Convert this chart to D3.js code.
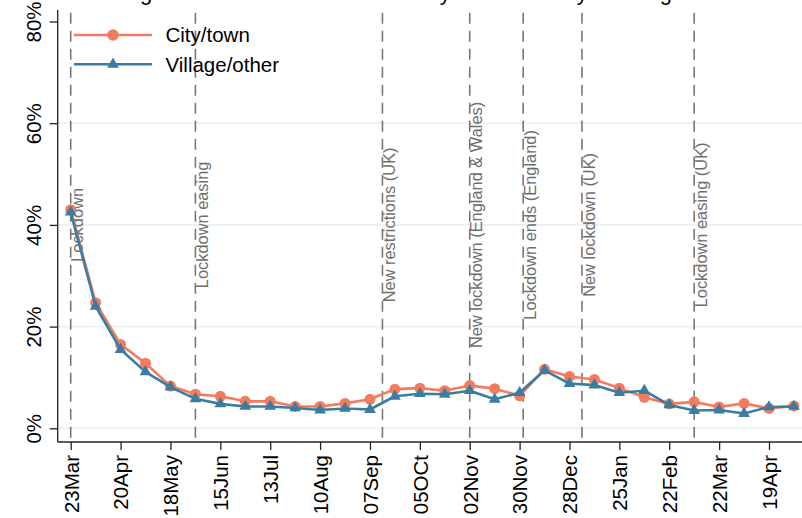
<!DOCTYPE html>
<html>
<head>
<meta charset="utf-8">
<script src="https://cdn.jsdelivr.net/npm/d3@7"></script>
<style>
  html, body { margin: 0; padding: 0; background: #fff; }
  svg { display: block; font-family: "Liberation Sans", Arial, sans-serif; }
</style>
</head>
<body>
<svg id="chart" width="802" height="518"></svg>
<script>
// ---- data ----
const titleText = "Percentage who never left home at all by settlement by adult age";
const dates = ["2020-03-23","2020-04-06","2020-04-20","2020-05-04","2020-05-18","2020-06-01","2020-06-15","2020-06-29","2020-07-13","2020-07-27","2020-08-10","2020-08-24","2020-09-07","2020-09-21","2020-10-05","2020-10-19","2020-11-02","2020-11-16","2020-11-30","2020-12-14","2020-12-28","2021-01-11","2021-01-25","2021-02-08","2021-02-22","2021-03-08","2021-03-22","2021-04-05","2021-04-19","2021-05-03"];
const cityTown = [43.0,24.7,16.5,12.8,8.3,6.7,6.3,5.3,5.3,4.3,4.3,4.9,5.7,7.7,7.9,7.4,8.4,7.8,6.4,11.6,10.2,9.6,7.9,6.1,4.8,5.2,4.2,4.9,3.9,4.4];
const villageOther = [42.5,24.0,15.5,11.1,8.1,5.8,4.8,4.3,4.3,4.0,3.6,3.9,3.7,6.3,6.8,6.7,7.4,5.7,7.0,11.4,8.8,8.5,7.0,7.4,4.6,3.5,3.6,2.9,4.2,4.3];
const seriesNames = ["City/town", "Village/other"];
const tickDates = ["2020-03-23","2020-04-20","2020-05-18","2020-06-15","2020-07-13","2020-08-10","2020-09-07","2020-10-05","2020-11-02","2020-11-30","2020-12-28","2021-01-25","2021-02-22","2021-03-22","2021-04-19"];
const tickLabels = ["23Mar","20Apr","18May","15Jun","13Jul","10Aug","07Sep","05OCt","02Nov","30Nov","28Dec","25Jan","22Feb","22Mar","19Apr"];
const yTicks = [0, 20, 40, 60, 80];
const eventDates = ["2020-03-23","2020-06-01","2020-09-14","2020-11-02","2020-12-02","2021-01-04","2021-03-08"];
const eventLabels = ["Lockdown","Lockdown easing","New restrictions (UK)","New lockdown (England & Wales)","Lockdown ends (England)","New lockdown (UK)","Lockdown easing (UK)"];

// ---- layout / style ----
const cityColor = "#F47B5E";
const villageColor = "#3A7DA0";
const parse = d3.utcParse("%Y-%m-%d");
const svg = d3.select("#chart");

const axisX = 57.7, axisY = 442, plotTop = 10, plotRight = 802;
const x = d3.scaleUtc()
  .domain([parse("2020-03-23"), parse("2021-04-19")])
  .range([70.7, 769]);
const y = d3.scaleLinear().domain([0, 80]).range([428.3, 21.5]);

// title (cut off by the top edge, as in the source image)
svg.append("text")
  .attr("x", 52).attr("y", 0)
  .attr("font-size", 22)
  .attr("fill", "#000")
  .text(titleText);

// gridlines
svg.append("g").selectAll("line")
  .data(yTicks.filter(d => d < 80))
  .join("line")
  .attr("x1", axisX).attr("x2", plotRight)
  .attr("y1", d => y(d)).attr("y2", d => y(d))
  .attr("stroke", "#e8f1f3").attr("stroke-width", 1.6);

// event lines
const ev = svg.append("g");
ev.selectAll("line")
  .data(eventDates)
  .join("line")
  .attr("x1", d => x(parse(d))).attr("x2", d => x(parse(d)))
  .attr("y1", 12.7).attr("y2", axisY)
  .attr("stroke", "#777").attr("stroke-width", 1.6)
  .attr("stroke-dasharray", "11,7");

ev.selectAll("text")
  .data(eventDates)
  .join("text")
  .attr("transform", d => `translate(${x(parse(d)) + 12.6},${y(40)}) rotate(-90)`)
  .attr("text-anchor", "middle")
  .attr("font-size", 16.4)
  .attr("fill", "#6e6e6e")
  .text((d, i) => eventLabels[i]);

// series
const series = [
  { name: seriesNames[0], values: cityTown, color: cityColor, shape: "circle" },
  { name: seriesNames[1], values: villageOther, color: villageColor, shape: "triangle" }
];
const line = d3.line().x(d => x(d.date)).y(d => y(d.v));
const triSym = d3.symbol().type(d3.symbolTriangle).size(60);

series.forEach(s => {
  const pts = dates.map((d, i) => ({ date: parse(d), v: s.values[i] }));
  const g = svg.append("g");
  g.append("path")
    .datum(pts)
    .attr("d", line)
    .attr("fill", "none")
    .attr("stroke", s.color)
    .attr("stroke-width", 2.6)
    .attr("stroke-linejoin", "round");
  if (s.shape === "circle") {
    g.selectAll("circle").data(pts).join("circle")
      .attr("cx", d => x(d.date)).attr("cy", d => y(d.v))
      .attr("r", 5.5).attr("fill", s.color);
  } else {
    g.selectAll("path.m").data(pts).join("path")
      .attr("class", "m")
      .attr("d", triSym)
      .attr("transform", d => `translate(${x(d.date)},${y(d.v)})`)
      .attr("fill", s.color);
  }
});

// legend
const lg = svg.append("g");
series.forEach((s, i) => {
  const ly = 35 + i * 29.3;
  lg.append("line").attr("x1", 74).attr("x2", 152).attr("y1", ly).attr("y2", ly)
    .attr("stroke", s.color).attr("stroke-width", 2.6);
  if (s.shape === "circle") {
    lg.append("circle").attr("cx", 113).attr("cy", ly).attr("r", 5.8).attr("fill", s.color);
  } else {
    lg.append("path").attr("d", triSym).attr("transform", `translate(113,${ly})`).attr("fill", s.color);
  }
  lg.append("text").attr("x", 165.5).attr("y", ly).attr("dy", "0.36em")
    .attr("font-size", 20.5).attr("fill", "#000").text(s.name);
});

// y axis
const yAxis = svg.append("g").attr("transform", `translate(${axisX},0)`)
  .call(d3.axisLeft(y).tickValues(yTicks).tickSize(8).tickFormat(d => d + "%"));
yAxis.select(".domain").remove();
yAxis.append("line").attr("x1", 0).attr("x2", 0).attr("y1", plotTop).attr("y2", axisY)
  .attr("stroke", "#222").attr("stroke-width", 1.3);
yAxis.selectAll(".tick line").attr("stroke", "#222").attr("stroke-width", 1.3);
yAxis.selectAll(".tick text")
  .attr("font-size", 20.5).attr("fill", "#000")
  .attr("font-family", "'Liberation Sans', Arial, sans-serif")
  .attr("text-anchor", "middle")
  .attr("x", 0).attr("dy", 0)
  .attr("transform", "translate(-16.3,0) rotate(-90)");

// x axis
const xAxis = svg.append("g").attr("transform", `translate(0,${axisY})`)
  .call(d3.axisBottom(x).tickValues(tickDates.map(parse)).tickSize(8)
    .tickFormat((d, i) => tickLabels[i]));
xAxis.select(".domain").remove();
xAxis.append("line").attr("x1", axisX).attr("x2", plotRight).attr("y1", 0).attr("y2", 0)
  .attr("stroke", "#222").attr("stroke-width", 1.3);
xAxis.selectAll(".tick line").attr("stroke", "#222").attr("stroke-width", 1.3);
xAxis.selectAll(".tick text")
  .attr("font-size", 20.5).attr("fill", "#000")
  .attr("font-family", "'Liberation Sans', Arial, sans-serif")
  .attr("text-anchor", "end")
  .attr("x", 0).attr("y", 0).attr("dy", "0.36em")
  .attr("transform", "translate(0,13) rotate(-90)");
</script>
</body>
</html>
